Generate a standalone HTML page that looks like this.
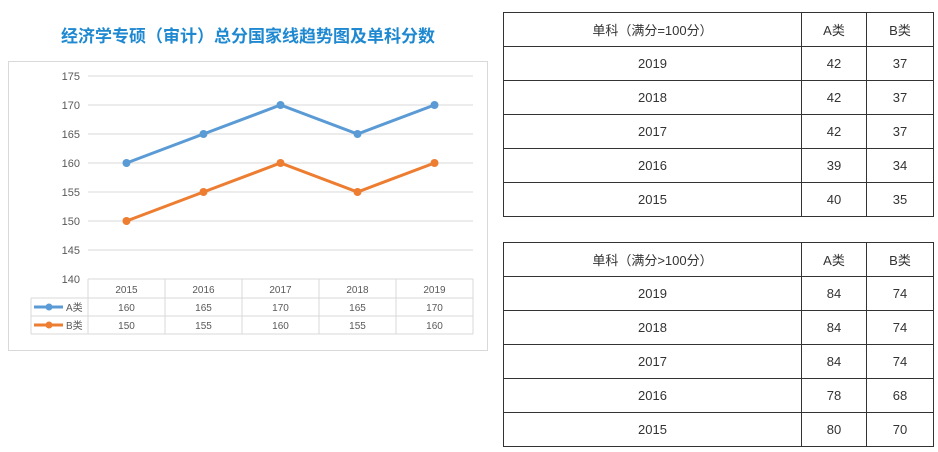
<!DOCTYPE html>
<html><head><meta charset="utf-8">
<style>
body{margin:0;width:938px;height:452px;background:#fff;position:relative;overflow:hidden;font-family:"Liberation Sans","Noto Sans CJK SC",sans-serif;}
.tbl{position:absolute;left:503px;border-collapse:collapse;font-size:13px;color:#333;}
.tbl td{border:1px solid #333;text-align:center;padding:0;height:33px;}
</style></head><body>
<svg width="490" height="360" style="position:absolute;left:0;top:0">
<text x="248" y="42" text-anchor="middle" font-size="17" font-weight="bold" fill="#1e88d0" font-family="Liberation Sans,Noto Sans CJK SC,sans-serif">经济学专硕（审计）总分国家线趋势图及单科分数</text>
<rect x="8.5" y="61.5" width="479" height="289" fill="#fff" stroke="#d9d9d9"/>
<g id="grid"></g><g id="table"></g><g id="series"></g>
</svg>
<table class="tbl" style="top:12px;width:431px">
<tr><td style="width:297px">单科（满分=100分）</td><td style="width:64px">A类</td><td>B类</td></tr>
<tr><td>2019</td><td>42</td><td>37</td></tr>
<tr><td>2018</td><td>42</td><td>37</td></tr>
<tr><td>2017</td><td>42</td><td>37</td></tr>
<tr><td>2016</td><td>39</td><td>34</td></tr>
<tr><td>2015</td><td>40</td><td>35</td></tr>
</table>
<table class="tbl" style="top:242px;width:431px">
<tr><td style="width:297px">单科（满分&gt;100分）</td><td style="width:64px">A类</td><td>B类</td></tr>
<tr><td>2019</td><td>84</td><td>74</td></tr>
<tr><td>2018</td><td>84</td><td>74</td></tr>
<tr><td>2017</td><td>84</td><td>74</td></tr>
<tr><td>2016</td><td>78</td><td>68</td></tr>
<tr><td>2015</td><td>80</td><td>70</td></tr>
</table>
<script>
const categories=["2015","2016","2017","2018","2019"];
const seriesA=[160,165,170,165,170];
const seriesB=[150,155,160,155,160];
const yTicks=[140,145,150,155,160,165,170,175];
const NS="http://www.w3.org/2000/svg";
const x0=88,colW=77,yTop=76,yBot=279,yMin=140,yMax=175;
const xs=i=>x0+colW*(i+0.5);
const ys=v=>yBot-(v-yMin)/(yMax-yMin)*(yBot-yTop);
function mk(t,a,p){const e=document.createElementNS(NS,t);for(const k in a)e.setAttribute(k,a[k]);p.appendChild(e);return e;}
const grid=document.getElementById('grid');
yTicks.forEach(v=>{
 if(v>yMin){const l=mk('line',{x1:x0,x2:x0+colW*categories.length,y1:ys(v),y2:ys(v),stroke:'#d9d9d9'},grid);
 
 }
 const t=mk('text',{x:x0-8,y:ys(v)+4,'text-anchor':'end','font-size':11,fill:'#595959'},grid);t.textContent=v;
 
 
});
const tb=document.getElementById('table');
const rowY=[279,298,316,334];
const right=x0+colW*categories.length;
mk('line',{x1:x0,x2:right,y1:rowY[0],y2:rowY[0],stroke:'#d9d9d9'},tb);
for(let r=1;r<4;r++)mk('line',{x1:31,x2:right,y1:rowY[r],y2:rowY[r],stroke:'#d9d9d9'},tb);
mk('line',{x1:31,x2:31,y1:rowY[1],y2:rowY[3],stroke:'#d9d9d9'},tb);
for(let i=0;i<=categories.length;i++)mk('line',{x1:x0+colW*i,x2:x0+colW*i,y1:rowY[0],y2:rowY[3],stroke:'#d9d9d9'},tb);
categories.forEach((c,i)=>{
 const t=mk('text',{x:xs(i),y:293,'text-anchor':'middle','font-size':10,fill:'#595959'},tb);t.textContent=c;
 
 
 [seriesA,seriesB].forEach((s,j)=>{const d=mk('text',{x:xs(i),y:311+j*18,'text-anchor':'middle','font-size':10,fill:'#595959'},tb);d.textContent=s[i];
 
 });
});
const sg=document.getElementById('series');
[[seriesA,'#5b9bd5','A类'],[seriesB,'#ed7d31','B类']].forEach(([s,col,name],j)=>{
 const ly=307+j*18;
 const lg=mk('g',{},tb);
 
 
 mk('line',{x1:34,x2:63,y1:ly,y2:ly,stroke:col,'stroke-width':3},lg);
 mk('circle',{cx:49,cy:ly,r:3.5,fill:col},lg);
 const lt=mk('text',{x:66,y:ly+4,'font-size':10,fill:'#595959'},lg);lt.textContent=name;
 const p=mk('polyline',{points:s.map((v,i)=>xs(i)+','+ys(v)).join(' '),fill:'none',stroke:col,'stroke-width':3},sg);
 
 
 s.forEach((v,i)=>{const c=mk('circle',{cx:xs(i),cy:ys(v),r:4,fill:col},sg);
 
 });
});
</script>
</body></html>
